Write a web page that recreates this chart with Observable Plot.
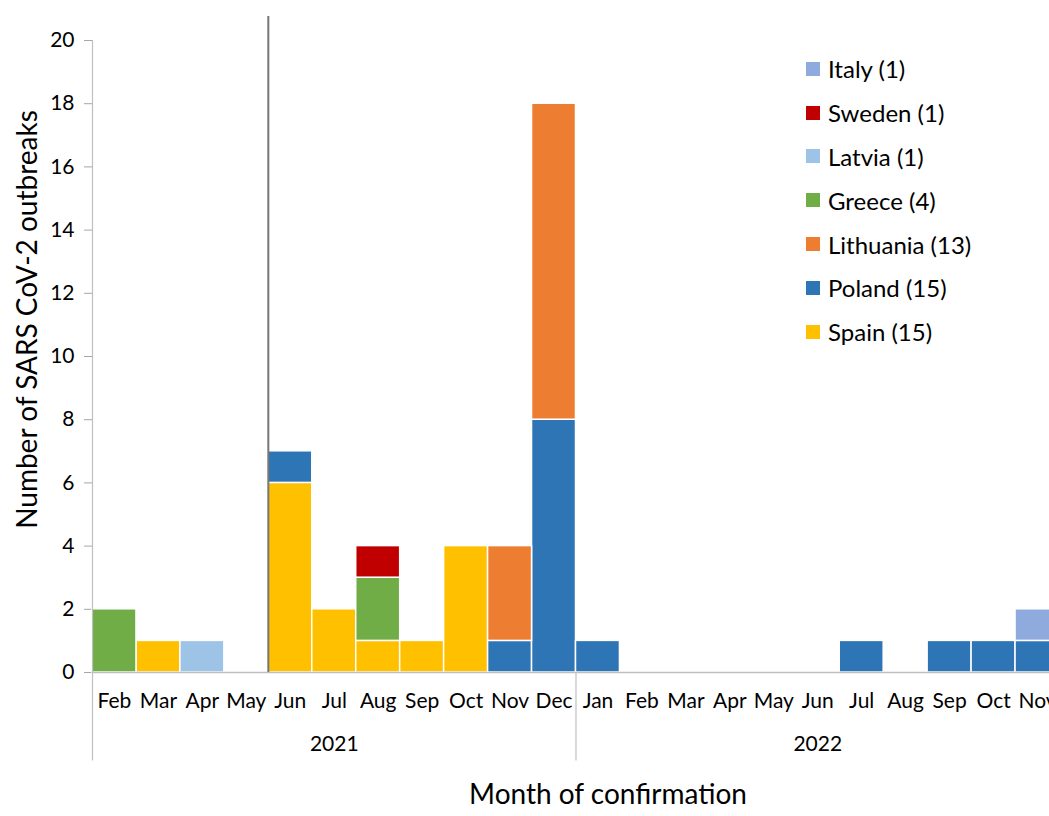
<!DOCTYPE html>
<html>
<head>
<meta charset="utf-8">
<script src="https://cdn.jsdelivr.net/npm/d3@7"></script>
<script src="https://cdn.jsdelivr.net/npm/@observablehq/plot@0.6"></script>
<style>
  body { margin: 0; background: #fff; font-family: Lato, "Open Sans", sans-serif; }
  #wrap { position: relative; width: 1049px; height: 816px; overflow: hidden; }
  #legend { position: absolute; left: 806px; top: 47px; }
  .lg-row { display: flex; align-items: center; height: 43.8px; font-size: 24px; color: #000; }
  .lg-sw { width: 14px; height: 14px; margin-right: 8px; }
  g[aria-label="y-axis tick"] path, g[aria-label="y-axis"] line { stroke: #a6a6a6; }
</style>
</head>
<body>
<div id="wrap"><div id="chart"></div><div id="legend"></div></div>
<script>
const months = ["2021-02","2021-03","2021-04","2021-05","2021-06","2021-07","2021-08","2021-09","2021-10","2021-11","2021-12",
                "2022-01","2022-02","2022-03","2022-04","2022-05","2022-06","2022-07","2022-08","2022-09","2022-10","2022-11"];
const monthNames = ["Jan","Feb","Mar","Apr","May","Jun","Jul","Aug","Sep","Oct","Nov","Dec"];

const countries = ["Spain","Poland","Lithuania","Greece","Latvia","Sweden","Italy"];
const colors    = ["#FFC000","#2E75B6","#ED7D31","#70AD47","#9DC3E6","#C00000","#8FAADC"];
const totals    = [15, 15, 13, 4, 1, 1, 1];

const spain     = [0,1,0,0,6,2,1,1,4,0,0, 0,0,0,0,0,0,0,0,0,0,0];
const poland    = [0,0,0,0,1,0,0,0,0,1,8, 1,0,0,0,0,0,1,0,1,1,1];
const lithuania = [0,0,0,0,0,0,0,0,0,3,10, 0,0,0,0,0,0,0,0,0,0,0];
const greece    = [2,0,0,0,0,0,2,0,0,0,0, 0,0,0,0,0,0,0,0,0,0,0];
const latvia    = [0,0,1,0,0,0,0,0,0,0,0, 0,0,0,0,0,0,0,0,0,0,0];
const sweden    = [0,0,0,0,0,0,1,0,0,0,0, 0,0,0,0,0,0,0,0,0,0,0];
const italy     = [0,0,0,0,0,0,0,0,0,0,0, 0,0,0,0,0,0,0,0,0,0,1];

const yTicks = [0,2,4,6,8,10,12,14,16,18,20];
const years = ["2021","2022"];
const highlightMonth = "2021-06";

const seriesValues = [spain, poland, lithuania, greece, latvia, sweden, italy];
const table = [];
countries.forEach((c, ci) => seriesValues[ci].forEach((v, mi) => {
  if (v > 0) table.push({month: months[mi], country: c, value: v});
}));

const yearMonths = years.map(y => months.filter(m => m.startsWith(y)));
const yearStarts = yearMonths.map(ms => ms[0]);
const yearLabels = years.map((y, i) => ({year: y, month: yearMonths[i][Math.floor(yearMonths[i].length / 2)]}));

const x0 = 92, x1 = 1059;
const bw = (x1 - x0) / months.length;

const chart = Plot.plot({
  width: 1049,
  height: 816,
  marginLeft: 92,
  marginRight: 0,
  marginTop: 16,
  marginBottom: 144,
  style: {fontFamily: "Lato, 'Open Sans', sans-serif", fontSize: "21px", color: "#000", background: "#fff", overflow: "hidden"},
  x: {type: "band", domain: months, range: [x0, x1], padding: 0, round: false, tickSize: 0, tickPadding: 21,
      tickFormat: m => monthNames[+m.slice(5) - 1], label: null},
  y: {domain: [0, 20], range: [672, 40], ticks: yTicks, tickSize: 8, tickPadding: 10, label: null},
  color: {domain: countries, range: colors},
  marks: [
    Plot.barY(table, Plot.stackY({x: "month", y: "value", fill: "country", order: countries,
      stroke: "#fff", strokeWidth: 1.5})),
    Plot.ruleX([months[0]], {x: d => d, dx: -bw / 2, y1: 0, y2: 20, stroke: "#bfbfbf", strokeWidth: 1.2}),
    Plot.ruleY([0], {stroke: "#bfbfbf", strokeWidth: 1.5}),
    Plot.ruleX(yearStarts, {x: d => d, dx: -bw / 2, y1: 0, y2: -2.8, stroke: "#bfbfbf", strokeWidth: 1.2}),
    Plot.ruleX([highlightMonth], {x: d => d, dx: -bw / 2, stroke: "#767676", strokeWidth: 2}),
    Plot.text(yearLabels, {x: "month", text: "year", frameAnchor: "bottom", dy: 78, fontSize: 21, fill: "#000"}),
    Plot.text(["Month of confirmation"], {frameAnchor: "bottom", dx: 37, dy: 131, fontSize: 28, fill: "#000"}),
    Plot.text(["Number of SARS CoV-2 outbreaks"], {frameAnchor: "left", textAnchor: "middle", dx: -64, dy: -25, rotate: -90, fontSize: 28, fill: "#000"})
  ]
});
document.getElementById("chart").appendChild(chart);

const legend = document.getElementById("legend");
countries.map((c, i) => ({c, col: colors[i], n: totals[i]})).reverse().forEach(d => {
  const row = document.createElement("div");
  row.className = "lg-row";
  row.innerHTML = `<div class="lg-sw" style="background:${d.col}"></div><span>${d.c} (${d.n})</span>`;
  legend.appendChild(row);
});
</script>
</body>
</html>
